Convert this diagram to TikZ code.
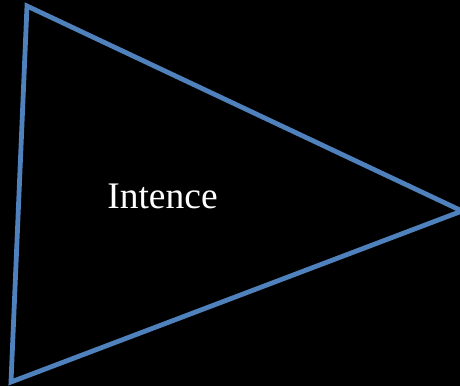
\documentclass[tikz,border=0pt]{standalone}
\usepackage{fontspec}
\setmainfont{Liberation Serif}
\definecolor{triblue}{HTML}{4F81BD}
\begin{document}
\begin{tikzpicture}[x=1pt,y=1pt]
\fill[black] (0,0) rectangle (460,386);
\useasboundingbox (0,0) rectangle (460,386);
\coordinate (top) at (27,380);
\coordinate (right) at (462,175);
\coordinate (bottom) at (11,4);
\draw[triblue, line width=4.8pt, line join=miter] (top) -- (right) -- (bottom) -- cycle;
\node[text=white, font=\fontsize{37.5}{42}\selectfont, anchor=base, inner sep=0pt] (label) at (162.5,178) {Intence};
\end{tikzpicture}
\end{document}
